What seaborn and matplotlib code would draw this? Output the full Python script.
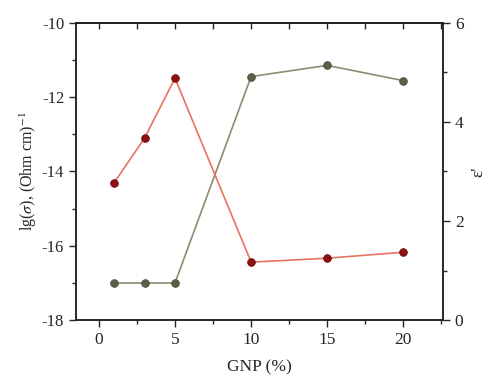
import numpy as np
import pandas as pd
import matplotlib as mpl
import matplotlib.pyplot as plt
import seaborn as sns
from matplotlib.ticker import MultipleLocator

# data
gnp = [1, 3, 5, 10, 15, 20]
lg_sigma = [-17.0, -17.0, -17.0, -11.45, -11.15, -11.56]
eps = [2.77, 3.67, 4.88, 1.17, 1.25, 1.37]

df = pd.DataFrame({'gnp': gnp, 'lg_sigma': lg_sigma, 'eps': eps})

sns.set_style("ticks")
plt.rcParams['font.family'] = ['Liberation Serif', 'DejaVu Serif']
plt.rcParams['mathtext.fontset'] = 'stix'
plt.rcParams['font.size'] = 11
plt.rcParams['axes.unicode_minus'] = False

fig = plt.figure(figsize=(5, 3.9), dpi=100)
ax = fig.add_axes([0.152, 0.179, 0.734, 0.763])
ax2 = ax.twinx()

# conductivity on left axis
sns.lineplot(data=df, x='gnp', y='lg_sigma', ax=ax, color='#8c8c72', lw=1.2,
             marker='o', markersize=5.5, markerfacecolor='#5e5e48',
             markeredgecolor='#4a4a38', markeredgewidth=0.6)
# permittivity on right axis
sns.lineplot(data=df, x='gnp', y='eps', ax=ax2, color='#e8735f', lw=1.2,
             marker='o', markersize=5.5, markerfacecolor='#8e1010',
             markeredgecolor='#6e0a0a', markeredgewidth=0.6)

ax.set_xlim(-1.5, 22.6)
ax.set_ylim(-18, -10)
ax2.set_ylim(0, 6)

ax.xaxis.set_major_locator(MultipleLocator(5))
ax.xaxis.set_minor_locator(MultipleLocator(2.5))
ax.yaxis.set_major_locator(MultipleLocator(2))
ax.yaxis.set_minor_locator(MultipleLocator(1))
ax2.yaxis.set_major_locator(MultipleLocator(2))
ax2.yaxis.set_minor_locator(MultipleLocator(1))

ax.tick_params(axis='x', which='both', direction='out', bottom=True, top=False, labelsize=12.5)
ax.tick_params(axis='x', which='major', length=5, width=1)
ax.tick_params(axis='x', which='minor', length=3, width=1)
ax.tick_params(axis='y', which='major', direction='out', length=5, width=1, labelsize=12)
ax.tick_params(axis='y', which='minor', direction='out', length=3, width=1)
ax2.tick_params(axis='y', which='major', direction='out', length=5, width=1, labelsize=12.5)
ax2.tick_params(axis='y', which='minor', direction='out', length=3, width=1)

# top ticks point inward
secx = ax.secondary_xaxis('top')
secx.xaxis.set_major_locator(MultipleLocator(2.5))
secx.tick_params(axis='x', direction='in', length=4, width=1, labeltop=False)

for a in (ax, ax2):
    for s in a.spines.values():
        s.set_linewidth(1.1)
        s.set_color('#222222')
secx.spines['top'].set_linewidth(1.1)

ax.set_xlabel('GNP (%)', fontsize=12.5, labelpad=8)
ax.set_ylabel(r'lg($\sigma$), (Ohm cm)$^{-1}$', fontsize=11.5, labelpad=2)
ax2.set_ylabel(r"ε'", fontsize=12.5, rotation=90, labelpad=5)

fig.savefig('out.png', dpi=100)
